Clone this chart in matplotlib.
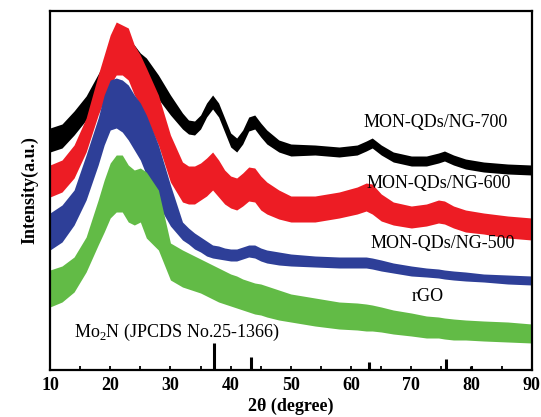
import matplotlib
matplotlib.use("Agg")
import matplotlib.pyplot as plt
from matplotlib.ticker import MultipleLocator

plt.rcParams['font.family'] = ['Liberation Serif', 'DejaVu Serif']
plt.rcParams['mathtext.fontset'] = 'custom'
plt.rcParams['mathtext.rm'] = 'Liberation Serif'

# 2theta grid (degree) and band envelopes (upper/lower, a.u., offset-stacked)
two_theta = [10, 12, 14, 16, 18, 19, 20, 21, 22, 23, 24, 25, 26, 28, 30, 32, 33, 34, 35, 36, 37, 38, 39,
             40, 41, 42, 43, 44, 45, 46, 48, 50, 54, 58, 61, 62.5, 63.5, 65, 67, 70, 72.5, 74.5, 75.5,
             77, 79, 82, 86, 90]

ng700_top = [242, 246, 259, 274, 296, 307, 317, 327, 332, 329, 325, 317, 312, 295, 275, 257, 250, 249, 255,
             267, 275, 267, 252, 237, 232, 240, 253, 255, 247, 240, 230, 226, 225, 223, 225, 229, 232,
             225, 218, 214, 214, 217, 219, 215, 211, 208, 206, 205]
ng700_bot = [218, 222, 235, 250, 272, 283, 293, 303, 308, 305, 301, 293, 288, 271, 255, 241, 236, 235, 241,
             253, 261, 253, 238, 223, 218, 226, 239, 241, 233, 226, 218, 214, 215, 213, 215, 219, 222,
             215, 208, 204, 204, 207, 209, 205, 201, 198, 196, 195]

ng600_top = [205, 210, 225, 252, 295, 315, 335, 348, 345, 342, 325, 315, 302, 275, 235, 208, 204, 204, 207,
             212, 218, 210, 200, 194, 192, 197, 203, 202, 194, 188, 180, 174, 174, 178, 183, 187, 186,
             176, 168, 164, 166, 170, 169, 164, 160, 157, 154, 152]
ng600_bot = [173, 178, 192, 218, 255, 270, 285, 295, 295, 290, 275, 265, 252, 225, 188, 168, 166, 166, 170,
             174, 180, 173, 166, 162, 160, 164, 169, 168, 160, 156, 151, 148, 148, 152, 156, 159, 156,
             149, 145, 142, 144, 147, 146, 142, 138, 136, 132, 130]

ng500_top = [157, 165, 180, 215, 252, 275, 290, 292, 290, 285, 275, 267, 255, 225, 185, 148, 142, 137, 133,
             129, 125, 124, 122, 121, 121, 123, 125, 125, 122, 120, 118, 116, 114, 113, 113, 113, 112,
             110, 107, 104, 102, 101, 100, 99, 98, 96, 95, 94]
ng500_bot = [120, 128, 145, 170, 205, 225, 240, 242, 238, 230, 220, 210, 195, 165, 144, 130, 126, 121, 118,
             114, 112, 111, 110, 109, 109, 111, 113, 112, 109, 107, 105, 104, 103, 102, 102, 102, 101,
             99, 97, 94, 93, 92, 91, 90, 89, 88, 86, 85]

rgo_top = [100, 104, 113, 133, 170, 190, 207, 215, 215, 205, 200, 202, 198, 180, 127, 120, 117, 114, 111,
           108, 105, 102, 99, 96, 94, 91, 89, 87, 86, 84, 80, 76, 72, 68, 67, 66, 65, 63, 60, 57, 54,
           53, 52, 51, 50, 49, 48, 46]
rgo_bot = [63, 68, 78, 98, 125, 138, 152, 158, 158, 148, 145, 148, 132, 120, 90, 83, 81, 79, 77,
           74, 71, 68, 66, 64, 62, 60, 58, 56, 55, 53, 50, 48, 44, 41, 40, 39, 39, 38, 36, 34, 32,
           32, 31, 30, 30, 29, 28, 27]

# Mo2N reference pattern (JCPDS 25-1366)
ref_pos = [37.3, 43.3, 63.0, 75.7, 79.9]
ref_int = [27, 13, 8, 11, 4]

series = [
    (ng700_top, ng700_bot, '#000000', 'MON-QDs/NG-700', (74.1, 248)),
    (ng600_top, ng600_bot, '#ed1c24', 'MON-QDs/NG-600', (74.6, 187)),
    (ng500_top, ng500_bot, '#2e3f98', 'MON-QDs/NG-500', (75.2, 127)),
    (rgo_top, rgo_bot, '#62bb46', 'rGO', (72.7, 74)),
]

fig = plt.figure(figsize=(5.41, 4.17), dpi=100)
ax = fig.add_axes([0.0924, 0.1127, 0.8906, 0.8609])

for top, bot, col, name, (tx, ty) in series:
    ax.fill_between(two_theta, bot, top, color=col, linewidth=0)
    ax.text(tx, ty, name, ha='center', va='center', fontsize=13)

ax.vlines(ref_pos, 0, ref_int, color='black', linewidth=2.2)
ax.text(31.1, 38, r'Mo$_2$N (JPCDS No.25-1366)', ha='center', va='center', fontsize=13)

ax.set_xlim(10, 90)
ax.set_ylim(0, 359)
ax.xaxis.set_major_locator(MultipleLocator(10))
ax.xaxis.set_minor_locator(MultipleLocator(5))
ax.tick_params(axis='x', which='both', direction='in', length=3, width=1.3, top=False, pad=5)
ax.set_yticks([])
for lab in ax.get_xticklabels():
    lab.set_fontweight('bold')
    lab.set_fontsize(13)
for sp in ax.spines.values():
    sp.set_linewidth(1.6)

ax.set_xlabel('2θ (degree)', fontsize=13, fontweight='bold', labelpad=3)
ax.set_ylabel('Intensity(a.u.)', fontsize=13, fontweight='bold', labelpad=8)

fig.savefig('out.png', dpi=100)
